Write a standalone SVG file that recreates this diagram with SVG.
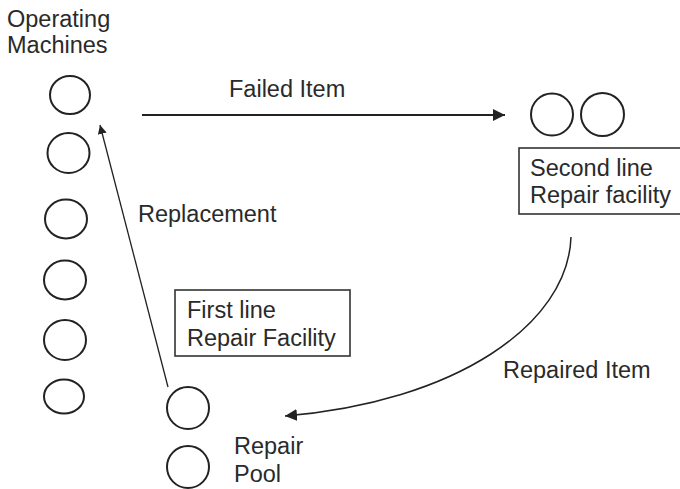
<svg xmlns="http://www.w3.org/2000/svg" width="680" height="489" viewBox="0 0 680 489">
<style>
  text { font-family: "Liberation Sans", Arial, sans-serif; font-size: 23.5px; fill: #2a2a2a; }
  .c { fill: none; stroke: #222; stroke-width: 2; }
  .b { fill: none; stroke: #333; stroke-width: 1.6; }
  .ln { fill: none; stroke: #222; }
</style>
<defs>
  <marker id="ah" viewBox="0 0 12 12" refX="12" refY="6" markerWidth="12" markerHeight="12" markerUnits="userSpaceOnUse" orient="auto">
    <path d="M0,0 L12,6 L0,12 Z" fill="#222"/>
  </marker>
  <marker id="ahs" viewBox="0 0 10 10" refX="10" refY="5" markerWidth="9" markerHeight="9" markerUnits="userSpaceOnUse" orient="auto">
    <path d="M0,0 L10,5 L0,10 Z" fill="#222"/>
  </marker>
</defs>
<rect width="680" height="489" fill="#fff"/>
<g id="operating-machines">
  <text x="7" y="27">Operating</text>
  <text x="7" y="53">Machines</text>
  <ellipse class="c" cx="70" cy="95" rx="20" ry="19"/>
  <ellipse class="c" cx="68.5" cy="153" rx="21" ry="20"/>
  <ellipse class="c" cx="66" cy="219" rx="21" ry="19.5"/>
  <ellipse class="c" cx="65" cy="280" rx="21" ry="19.5"/>
  <ellipse class="c" cx="65" cy="340" rx="21" ry="20"/>
  <ellipse class="c" cx="64" cy="396.5" rx="20" ry="17"/>
</g>
<g id="second-line">
  <circle class="c" cx="552" cy="114.5" r="21"/>
  <circle class="c" cx="602.5" cy="114.5" r="21.5"/>
  <rect class="b" x="519" y="148" width="165" height="66"/>
  <text x="530" y="176">Second line</text>
  <text x="530" y="203">Repair facility</text>
</g>
<g id="first-line">
  <rect class="b" x="175" y="290" width="175" height="66"/>
  <text x="187" y="318">First line</text>
  <text x="187" y="346">Repair Facility</text>
</g>
<g id="repair-pool">
  <circle class="c" cx="188" cy="408" r="21"/>
  <circle class="c" cx="188" cy="467" r="21"/>
  <text x="234" y="454">Repair</text>
  <text x="234" y="482">Pool</text>
</g>
<g id="connectors">
  <line class="ln" x1="142" y1="115" x2="505" y2="115" stroke-width="2" marker-end="url(#ah)"/>
  <line class="ln" x1="168" y1="387" x2="100" y2="125" stroke-width="1.3" marker-end="url(#ahs)"/>
  <path class="ln" d="M571,237 C568,325 455,402 285,416" stroke-width="1.5" marker-end="url(#ah)"/>
  <text x="229" y="97">Failed Item</text>
  <text x="138" y="222">Replacement</text>
  <text x="503" y="378">Repaired Item</text>
</g>
</svg>
